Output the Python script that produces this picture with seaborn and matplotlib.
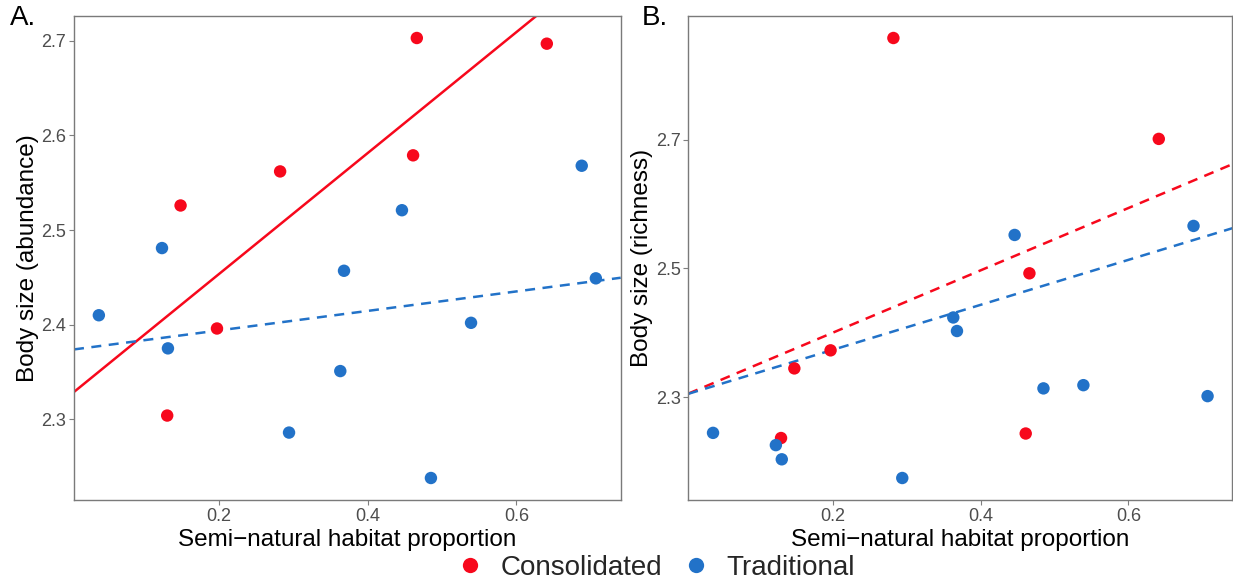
import numpy as np
import pandas as pd
import matplotlib
matplotlib.use("Agg")
import matplotlib.pyplot as plt
from matplotlib.lines import Line2D
import seaborn as sns

# ---- data ----
groups = ["Consolidated", "Traditional"]
x_consolidated = [0.130, 0.148, 0.197, 0.282, 0.461, 0.466, 0.641]
x_traditional = [0.038, 0.123, 0.131, 0.294, 0.363, 0.368, 0.446, 0.485, 0.539, 0.688, 0.707]

abund_consolidated = [2.304, 2.526, 2.396, 2.562, 2.579, 2.703, 2.697]
abund_traditional = [2.410, 2.481, 2.375, 2.286, 2.351, 2.457, 2.521, 2.238, 2.402, 2.568, 2.449]

rich_consolidated = [2.237, 2.345, 2.373, 2.8575, 2.244, 2.4925, 2.701]
rich_traditional = [2.245, 2.226, 2.204, 2.175, 2.424, 2.403, 2.552, 2.314, 2.319, 2.566, 2.302]

# model fit (intercept, slope) shown for Traditional in the richness panel
rich_traditional_fit = [2.304, 0.349]

x_ticks = [0.2, 0.4, 0.6]
y_ticks_abund = [2.3, 2.4, 2.5, 2.6, 2.7]
y_ticks_rich = [2.3, 2.5, 2.7]

colors = {"Consolidated": "#F7081C", "Traditional": "#2272C8"}

df = pd.DataFrame({
    "prop": x_consolidated + x_traditional,
    "abundance": abund_consolidated + abund_traditional,
    "richness": rich_consolidated + rich_traditional,
    "system": [groups[0]] * len(x_consolidated) + [groups[1]] * len(x_traditional),
})

sns.set_theme(style="white")
plt.rcParams["font.family"] = ["Liberation Sans", "DejaVu Sans"]

fig = plt.figure(figsize=(12.33, 5.85), dpi=100)
axA = fig.add_axes([74 / 1233, 85 / 585, (620.7 - 74) / 1233, 484 / 585])
axB = fig.add_axes([688.3 / 1233, 85 / 585, (1232.3 - 688.3) / 1233, 484 / 585])


def expand(vals, f=0.05):
    lo, hi = min(vals), max(vals)
    r = hi - lo
    return lo - f * r, hi + f * r


xlim = expand(df["prop"])
dash = (0, (4, 3))

panels = [
    (axA, "abundance", "Body size (abundance)", y_ticks_abund,
     {"Consolidated": "-", "Traditional": dash}),
    (axB, "richness", "Body size (richness)", y_ticks_rich,
     {"Consolidated": dash, "Traditional": dash}),
]

for ax, col, ylabel, yt, styles in panels:
    ax.set_xlim(*xlim)
    ax.set_ylim(*expand(df[col]))
    for g in groups:
        if col == "richness" and g == "Traditional":
            b0, b1 = rich_traditional_fit
            line = pd.DataFrame({"prop": list(xlim)})
            line["fit"] = b0 + b1 * line["prop"]
            sns.lineplot(data=line, x="prop", y="fit", ax=ax, color=colors[g],
                         linestyle=styles[g], linewidth=1.8, zorder=2)
            continue
        sub = df[df["system"] == g]
        sns.regplot(data=sub, x="prop", y=col, ax=ax, scatter=False, ci=None,
                    truncate=False, color=colors[g],
                    line_kws={"linestyle": styles[g], "linewidth": 1.8, "zorder": 2})
    sns.scatterplot(data=df, x="prop", y=col, hue="system", palette=colors,
                    hue_order=groups, s=80, edgecolor="none", ax=ax, legend=False, zorder=3)
    ax.set_xlim(*xlim)
    ax.set_ylim(*expand(df[col]))
    ax.set_xticks(x_ticks)
    ax.set_xticklabels([f"{v:.1f}" for v in x_ticks])
    ax.set_yticks(yt)
    ax.set_yticklabels([f"{v:.1f}" for v in yt])
    ax.tick_params(axis="both", labelsize=13, colors="#7F7F7F",
                   length=3.5, width=0.8, direction="out", bottom=True, left=True, pad=2)
    for t in ax.get_xticklabels() + ax.get_yticklabels():
        t.set_color("#4D4D4D")
    ax.set_xlabel("Semi\u2212natural habitat proportion", fontsize=17.5, color="black", labelpad=3)
    ax.set_ylabel(ylabel, fontsize=17.5, color="black", labelpad=2)
    for s in ax.spines.values():
        s.set_visible(True)
        s.set_color("#7A7A7A")
        s.set_linewidth(1.0)

fig.text(10 / 1233, 1 - 5 / 585, "A.", fontsize=20, va="top", ha="left", color="black")
fig.text(642 / 1233, 1 - 5 / 585, "B.", fontsize=20, va="top", ha="left", color="black")

handles = [Line2D([], [], marker="o", linestyle="none", markersize=11,
                  markerfacecolor=colors[g], markeredgecolor="none", label=g) for g in groups]
fig.legend(handles=handles, loc="center", bbox_to_anchor=(654 / 1233, 1 - 568 / 585),
           ncol=2, frameon=False, fontsize=20, handletextpad=0.5, columnspacing=0.6,
           borderaxespad=0, handlelength=1.2)

fig.savefig("out.png", dpi=100)
